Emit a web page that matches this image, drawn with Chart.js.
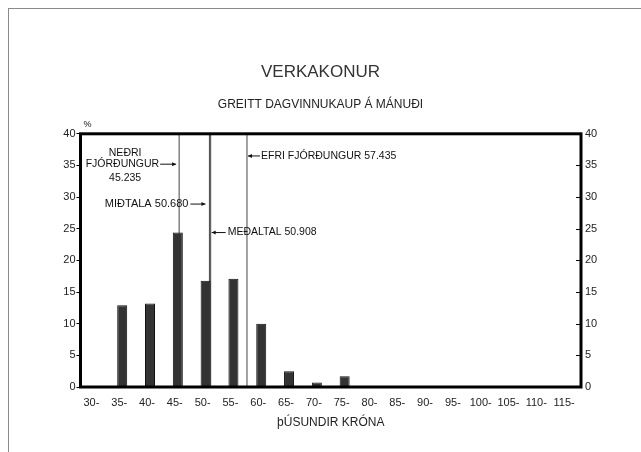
<!DOCTYPE html>
<html>
<head>
<meta charset="utf-8">
<script src="https://cdn.jsdelivr.net/npm/chart.js@4.4.0/dist/chart.umd.min.js"></script>
<style>
  html, body { margin: 0; padding: 0; background: #fff; }
  #wrap { position: relative; width: 641px; height: 452px; }
  #frame { position: absolute; left: 8px; top: 8px; right: 0; bottom: 0;
           border-top: 1px solid #8a8a8a; border-left: 1px solid #8a8a8a; pointer-events: none; }
</style>
</head>
<body>
<div id="wrap">
  <canvas id="chart" width="641" height="452"></canvas>
  <div id="frame"></div>
</div>
<script>
// income brackets (thousand kr.) and share of workers in each (%)
const categories = ['30-', '35-', '40-', '45-', '50-', '55-', '60-', '65-', '70-', '75-',
                    '80-', '85-', '90-', '95-', '100-', '105-', '110-', '115-'];
const shares = [0, 12.9, 13.2, 24.4, 16.8, 17.1, 10.0, 2.5, 0.7, 1.7,
                0, 0, 0, 0, 0, 0, 0, 0];
const yTicks = [0, 5, 10, 15, 20, 25, 30, 35, 40];

// quartiles, median and mean (thousand kr.)
const markerValues = [45.235, 50.680, 50.908, 57.435];
const markerNames = ['NEÐRI FJÓRÐUNGUR', 'MIÐTALA', 'MEÐALTAL', 'EFRI FJÓRÐUNGUR'];

const FONT = "'Liberation Sans', Arial, sans-serif";

function arrow(ctx, x1, x2, y) {
    const dir = x2 > x1 ? 1 : -1;
    ctx.beginPath();
    ctx.moveTo(x1, y);
    ctx.lineTo(x2, y);
    ctx.stroke();
    ctx.beginPath();
    ctx.moveTo(x2, y);
    ctx.lineTo(x2 - dir * 4, y - 2);
    ctx.lineTo(x2 - dir * 4, y + 2);
    ctx.closePath();
    ctx.fill();
}

const notesPlugin = {
    id: 'notes',
    afterDatasetsDraw(chart) {
        const { ctx, chartArea: a, scales } = chart;
        const y = scales.y, x2 = scales.x2;
        ctx.save();

        // heavy frame round the plot
        ctx.strokeStyle = '#000';
        ctx.lineWidth = 3;
        ctx.strokeRect(a.left, a.top, a.right - a.left, a.bottom - a.top);

        // short ticks inside the right edge
        ctx.lineWidth = 1;
        yTicks.forEach(t => {
            const py = Math.round(y.getPixelForValue(t)) + 0.5;
            ctx.beginPath();
            ctx.moveTo(a.right - 5, py);
            ctx.lineTo(a.right, py);
            ctx.stroke();
        });

        ctx.fillStyle = '#111';
        ctx.strokeStyle = '#111';
        ctx.font = '9px ' + FONT;
        ctx.textAlign = 'left';
        ctx.textBaseline = 'middle';
        ctx.fillText('%', a.left + 3, a.top - 9);

        ctx.font = '10.5px ' + FONT;
        const m = markerValues.map(v => x2.getPixelForValue(v));
        const lbl = i => markerValues[i].toFixed(3);

        // lower quartile, stacked text with arrow on middle line
        ctx.textAlign = 'center';
        const cx = m[0] - 54;
        ctx.fillText('NEÐRI', cx, y.getPixelForValue(37.0));
        ctx.textAlign = 'right';
        ctx.fillText('FJÓRÐUNGUR', m[0] - 20, y.getPixelForValue(35.2));
        arrow(ctx, m[0] - 19, m[0] - 3, y.getPixelForValue(35.2));
        ctx.textAlign = 'center';
        ctx.fillText(lbl(0), cx, y.getPixelForValue(33.0));

        // median
        ctx.font = '11px ' + FONT;
        ctx.textAlign = 'right';
        ctx.fillText(markerNames[1] + ' ' + lbl(1), m[1] - 21, y.getPixelForValue(28.9));
        arrow(ctx, m[1] - 19, m[1] - 4, y.getPixelForValue(28.9));

        // mean
        ctx.font = '10.5px ' + FONT;
        ctx.textAlign = 'left';
        arrow(ctx, m[2] + 15, m[2] + 1, y.getPixelForValue(24.4));
        ctx.fillText(markerNames[2] + ' ' + lbl(2), m[2] + 17, y.getPixelForValue(24.4));

        // upper quartile
        arrow(ctx, m[3] + 13, m[3] + 1, y.getPixelForValue(36.5));
        ctx.fillText(markerNames[3] + ' ' + lbl(3), m[3] + 14, y.getPixelForValue(36.5));

        ctx.restore();
    }
};

const markerSets = markerValues.map(v => ({
    type: 'line',
    xAxisID: 'x2',
    data: [{ x: v, y: 0 }, { x: v, y: 40 }],
    borderColor: '#444',
    borderWidth: 1,
    pointRadius: 0
}));

const ctx = document.getElementById('chart').getContext('2d');
new Chart(ctx, {
    type: 'bar',
    data: {
        labels: categories,
        datasets: [{
            label: '%',
            data: shares,
            backgroundColor: '#333',
            borderColor: '#111',
            borderWidth: 1,
            grouped: false,
            barPercentage: 0.36,
            categoryPercentage: 1
        }, ...markerSets]
    },
    options: {
        responsive: false,
        animation: false,
        layout: { padding: { left: 20, right: 20, top: 0, bottom: 8 } },
        plugins: {
            legend: { display: false },
            tooltip: { enabled: false },
            title: {
                display: true,
                text: 'VERKAKONUR',
                color: '#333',
                font: { family: FONT, size: 17, weight: 'normal' },
                padding: { top: 62, bottom: 15 }
            },
            subtitle: {
                display: true,
                text: 'GREITT DAGVINNUKAUP Á MÁNUÐI',
                color: '#222',
                font: { family: FONT, size: 12, weight: 'normal' },
                padding: { top: 0, bottom: 22 }
            }
        },
        scales: {
            x: {
                grid: { display: false },
                border: { display: false },
                ticks: { color: '#222', font: { family: FONT, size: 11 }, padding: 1,
                         labelOffset: -3, maxRotation: 0, autoSkip: false },
                title: { display: true, text: 'þÚSUNDIR KRÓNA', color: '#222',
                         font: { family: FONT, size: 12 }, padding: { top: 0, bottom: 14 } },
                afterFit: s => { s.height = 57; }
            },
            x2: {
                type: 'linear',
                display: false,
                min: 27.5,
                max: 117.5,
                offset: false
            },
            y: {
                min: 0,
                max: 40,
                ticks: { stepSize: 5, color: '#222', font: { family: FONT, size: 11 }, padding: 1 },
                grid: { drawOnChartArea: false, drawTicks: true, tickLength: 4, color: '#000' },
                border: { display: false },
                afterFit: s => { s.width = 60.5; }
            },
            y2: {
                position: 'right',
                min: 0,
                max: 40,
                ticks: { stepSize: 5, color: '#222', font: { family: FONT, size: 11 }, padding: -4 },
                grid: { display: false },
                border: { display: false },
                afterFit: s => { s.width = 40; }
            }
        }
    },
    plugins: [notesPlugin]
});
</script>
</body>
</html>
